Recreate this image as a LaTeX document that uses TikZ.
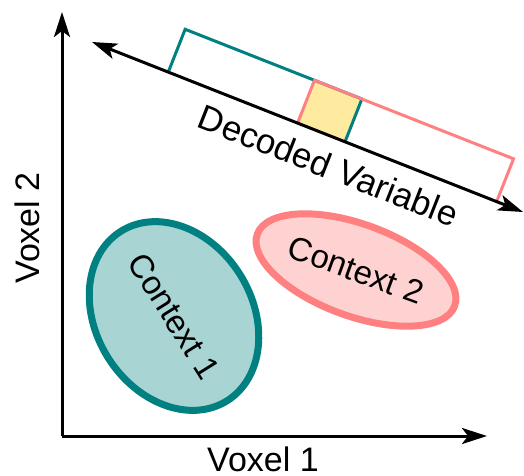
\documentclass[tikz,border=0pt]{standalone}
\usepackage{fontspec}
\setmainfont{Liberation Sans}
\usetikzlibrary{arrows.meta, shapes.geometric, calc}

\definecolor{tealline}{RGB}{0,128,128}
\definecolor{tealfill}{RGB}{168,212,212}
\definecolor{pinkline}{RGB}{255,128,128}
\definecolor{pinkfill}{RGB}{255,210,210}
\definecolor{overlapfill}{RGB}{255,235,160}

\begin{document}
\begin{tikzpicture}[
    x=1pt, y=-1pt,
    bigtext/.style={font=\fontsize{34}{37}\selectfont, inner sep=2pt},
    axisline/.style={line width=3pt, -{Stealth[length=25pt, width=16pt, inset=6pt]}},
    decodedline/.style={line width=3pt, {Stealth[length=25pt, width=16pt, inset=6pt]}-{Stealth[length=25pt, width=16pt, inset=6pt]}},
    binbox/.style={line width=3pt, line join=miter},
    context/.style={ellipse, line width=7pt, inner sep=0pt,
        font=\fontsize{33}{36}\selectfont},
    contextone/.style={context, draw=tealline, fill=tealfill,
        minimum width=200pt, minimum height=156pt},
    contexttwo/.style={context, draw=pinkline, fill=pinkfill,
        minimum width=210pt, minimum height=92pt}
]
\useasboundingbox (0,0) rectangle (524,475);

% Axes
\coordinate (origin) at (62,436);
\coordinate (ytop) at (62,12);
\coordinate (xend) at (487,436);
\draw[axisline] (origin) -- (ytop);
\draw[axisline] (origin) -- (xend);
\node[bigtext, rotate=90] (ylab) at (27,228) {Voxel 2};
\node[bigtext] (xlab) at (263,459) {Voxel 1};

% Decoded variable axis ends
\coordinate (dl) at (92,42);
\coordinate (dr) at (523,212);

% Bins along the decoded axis
\coordinate (tealL) at ($(dl)!82pt!(dr)$);
\coordinate (tealR) at ($(dl)!272pt!(dr)$);
\coordinate (pinkL) at ($(dl)!221pt!(dr)$);
\coordinate (pinkR) at ($(dl)!435pt!(dr)$);
\coordinate (tealLtop) at ($(tealL)!46pt!90:(dr)$);
\coordinate (tealRtop) at ($(tealR)!46pt!90:(dr)$);
\coordinate (pinkLtop) at ($(pinkL)!46pt!90:(dr)$);
\coordinate (pinkRtop) at ($(pinkR)!46pt!90:(dr)$);

% Overlap of the two bins
\fill[overlapfill] (pinkL) -- (pinkLtop) -- (tealRtop) -- (tealR) -- cycle;
\draw[binbox, tealline] (tealL) -- (tealLtop) -- (tealRtop) -- (tealR);
\draw[binbox, pinkline] (pinkL) -- (pinkLtop) -- (pinkRtop) -- (pinkR);

% Decoded variable axis
\draw[decodedline] (dl) -- node[bigtext, font=\fontsize{35}{38}\selectfont, sloped, below=12pt, pos=0.573] (declab) {Decoded Variable} (dr);

% Contexts
\node[contextone, rotate=-58] (ctx1) at (174,316) {Context 1};
\node[contexttwo, rotate=-20] (ctx2) at (356,270) {Context 2};

\end{tikzpicture}
\end{document}
